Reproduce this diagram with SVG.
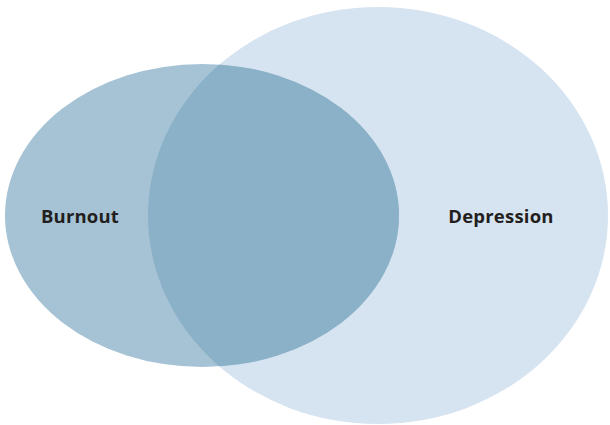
<svg xmlns="http://www.w3.org/2000/svg" width="610" height="425" viewBox="0 0 610 425">
  <style>
    .label { font-family: "Open Sans", "Liberation Sans", sans-serif; font-weight: bold; font-size: 18.5px; letter-spacing: 0.2px; fill: #231f20; }
  </style>
  <defs>
    <clipPath id="burnoutClip">
      <ellipse cx="202" cy="215.5" rx="197" ry="151.5"/>
    </clipPath>
  </defs>
  <rect width="610" height="425" fill="#ffffff"/>
  <g id="depression">
    <ellipse cx="378" cy="215.5" rx="230" ry="208.5" fill="#d6e3f0"/>
  </g>
  <g id="burnout">
    <ellipse cx="202" cy="215.5" rx="197" ry="151.5" fill="#a5c3d5"/>
  </g>
  <g id="overlap">
    <ellipse cx="378" cy="215.5" rx="230" ry="208.5" fill="#8bb1c8" clip-path="url(#burnoutClip)"/>
  </g>
  <g id="labels">
    <text class="label" x="80" y="222.5" text-anchor="middle">Burnout</text>
    <text class="label" x="501" y="222.5" text-anchor="middle">Depression</text>
  </g>
</svg>
